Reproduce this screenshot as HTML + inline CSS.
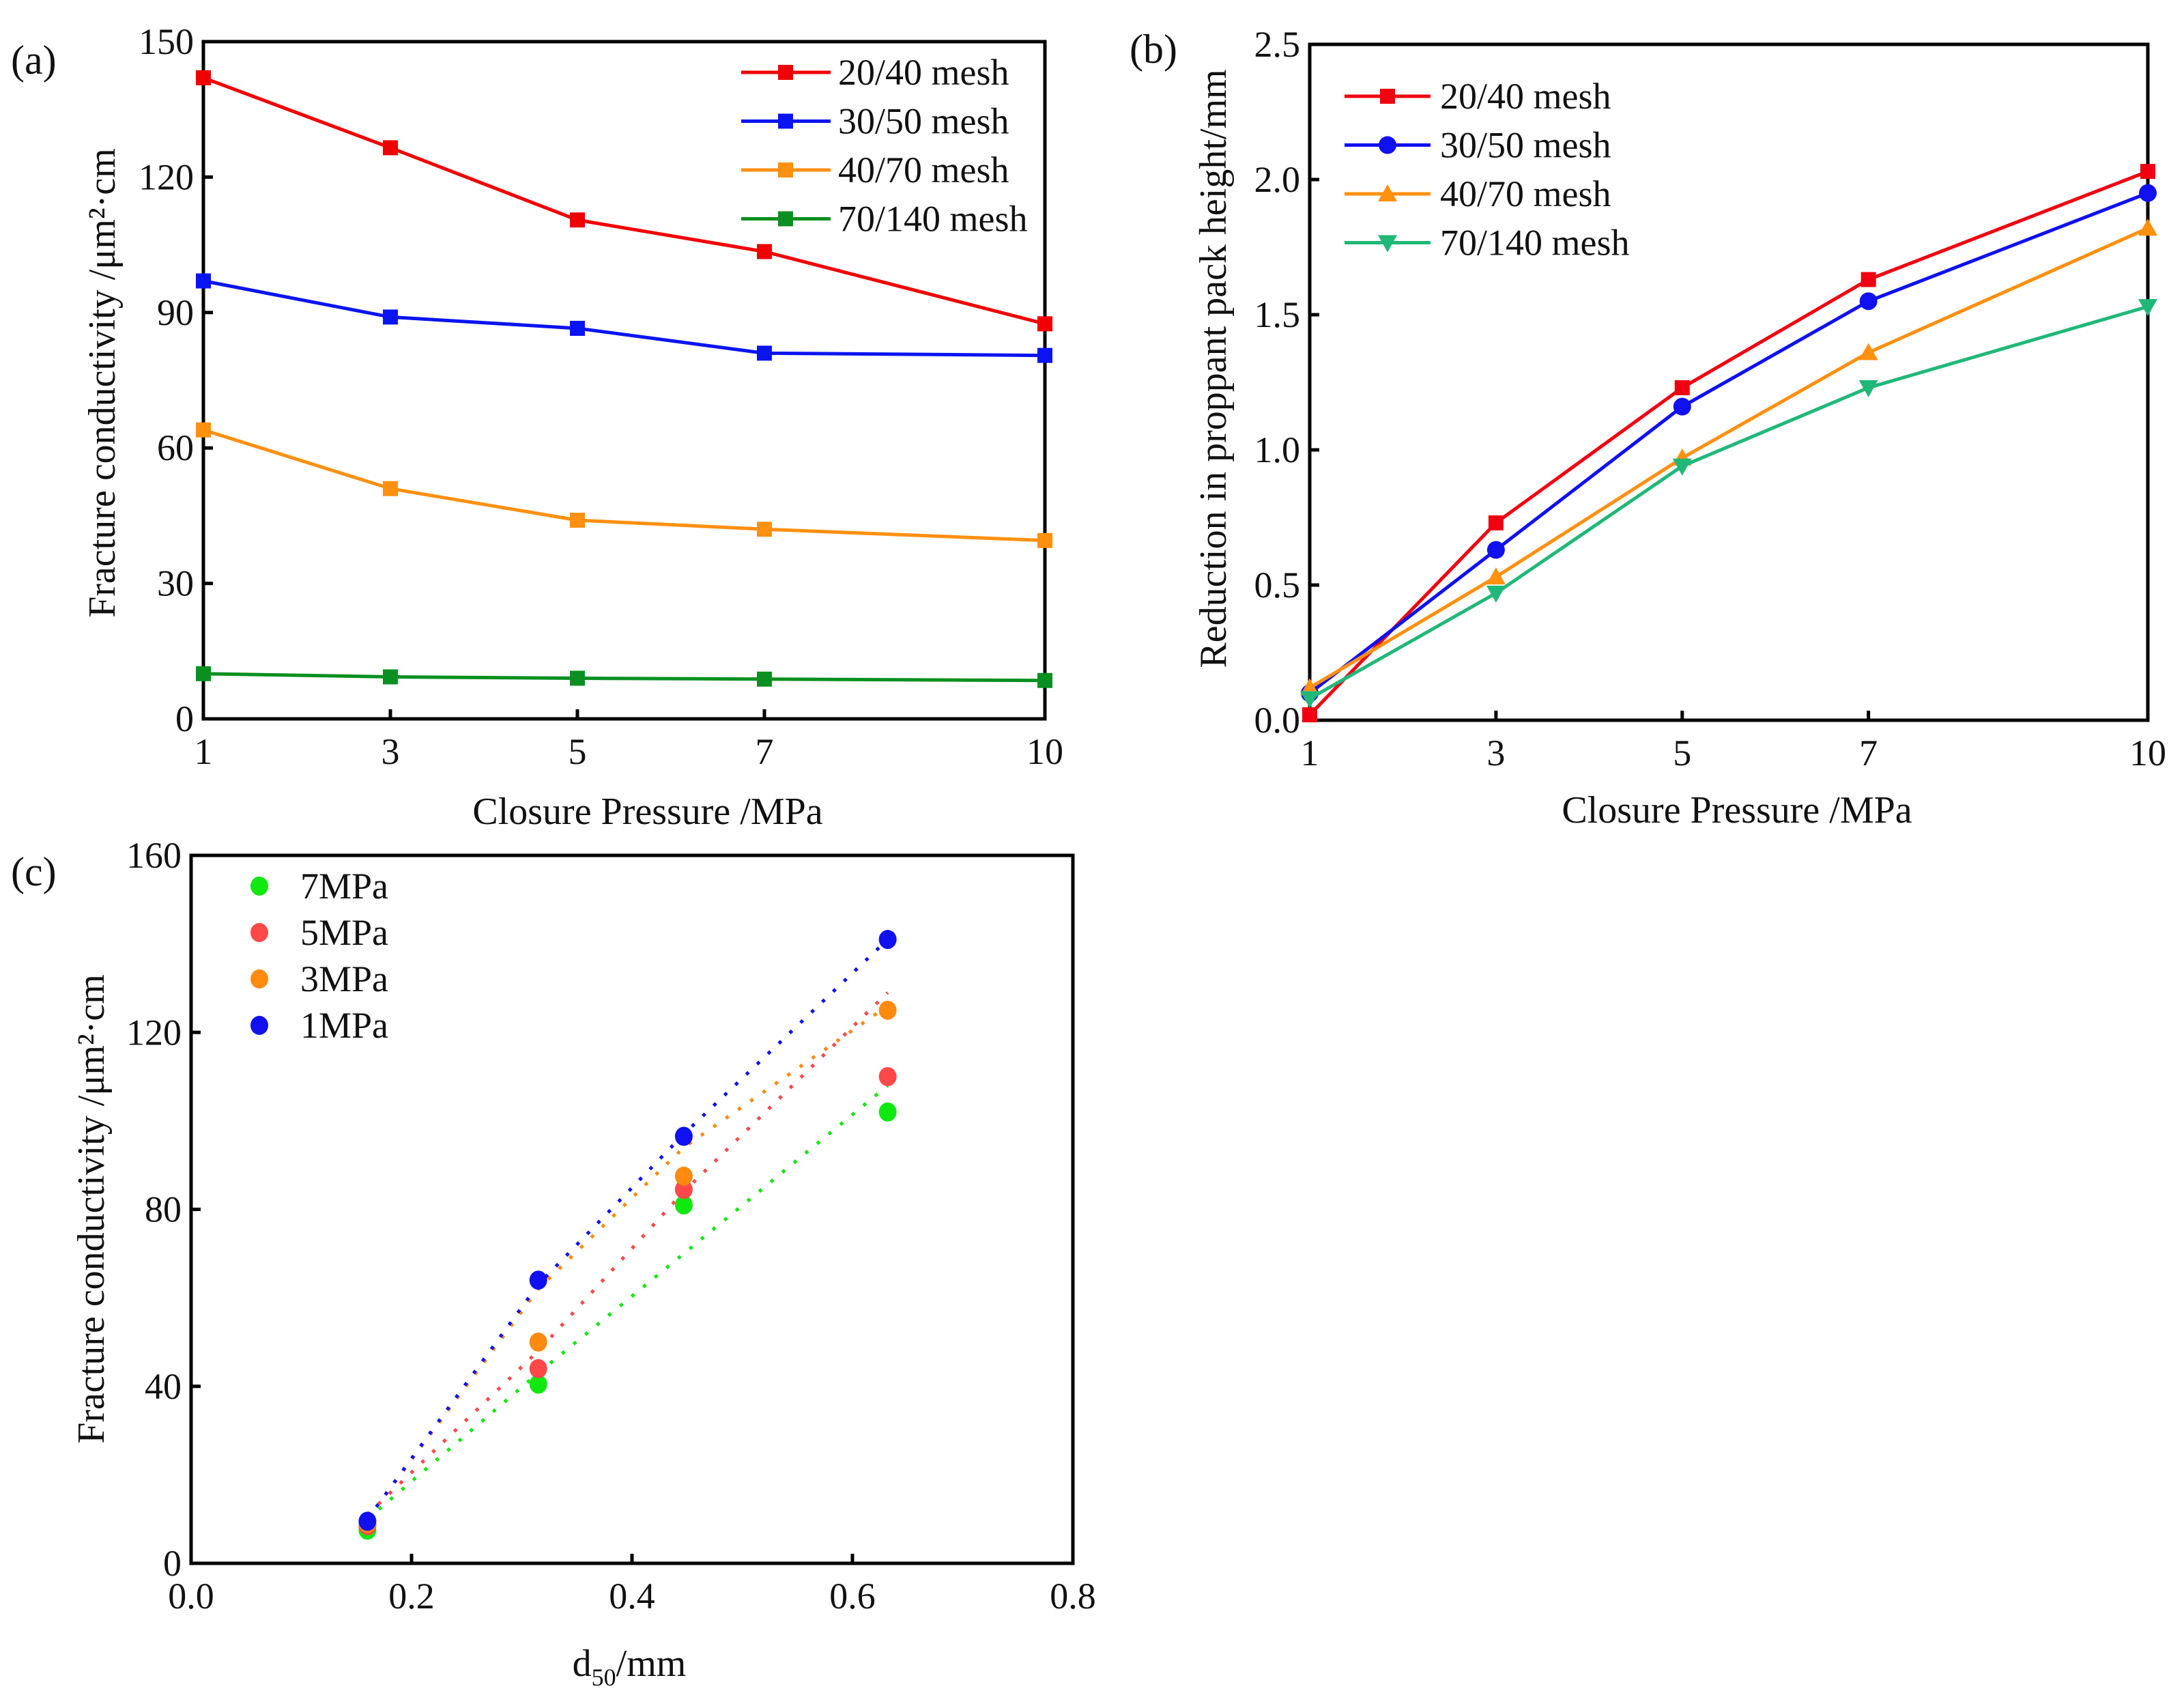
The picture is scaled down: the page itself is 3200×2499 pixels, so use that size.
<!DOCTYPE html>
<html><head><meta charset="utf-8"><style>
html,body{margin:0;padding:0;background:#fff}
svg{display:block}
text{font-family:"Liberation Serif",serif;fill:#111}
</style></head><body>
<svg id="fig" width="3200" height="2499" viewBox="0 0 3200 2499" xmlns="http://www.w3.org/2000/svg"></svg>
<script>
// ---- Panel (a) data ----
const aX = [1,3,5,7,10];
const aNames = ["20/40 mesh","30/50 mesh","40/70 mesh","70/140 mesh"];
const a2040 = [142,126.5,110.5,103.5,87.5];
const a3050 = [97,89,86.5,81,80.5];
const a4070 = [64,51,44,42,39.5];
const a70140 = [10,9.3,9,8.8,8.5];
const aYTicks = [0,30,60,90,120,150];
const aXTicks = [1,3,5,7,10];
// ---- Panel (b) data ----
const bX = [1,3,5,7,10];
const b2040 = [0.02,0.73,1.23,1.63,2.03];
const b3050 = [0.1,0.63,1.16,1.55,1.95];
const b4070 = [0.12,0.53,0.97,1.36,1.82];
const b70140 = [0.08,0.47,0.94,1.23,1.53];
const bYTicks = [0.0,0.5,1.0,1.5,2.0,2.5];
const bXTicks = [1,3,5,7,10];
// ---- Panel (c) data ----
const cX = [0.16,0.315,0.447,0.632];
const cNames = ["7MPa","5MPa","3MPa","1MPa"];
const c7 = [7.5,40.5,81,102];
const c5 = [8.5,44,84.5,110];
const c3 = [9,50,87.5,125];
const c1 = [9.5,64,96.5,141];
// fitted trend values at cX
const f7 = [10,43,70,108];
const f5 = [11,48,84,129];
const f3 = [10,62,94,126];
const f1 = [10,63,97,141];
const cYTicks = [0,40,80,120,160];
const cXTicks = [0.0,0.2,0.4,0.6,0.8];

const NS="http://www.w3.org/2000/svg";
const svg=document.getElementById('fig');
function mk(tag,attrs,parent){const e=document.createElementNS(NS,tag);for(const k in attrs)e.setAttribute(k,attrs[k]);(parent||svg).appendChild(e);return e;}
function txt(s,attrs,parent){const e=mk('text',attrs,parent);e.textContent=s;return e;}

function axes(g,L,R,T,B,xmin,xmax,ymin,ymax,xt,yt,xfmt,yfmt){
  const sx=v=>L+(v-xmin)/(xmax-xmin)*(R-L);
  const sy=v=>B-(v-ymin)/(ymax-ymin)*(B-T);
  xt.forEach(v=>{
    const t=mk('line',{x1:sx(v),x2:sx(v),y1:B,y2:B-14,stroke:'#000','stroke-width':5},g);
    
    
    const l=txt(xfmt(v),{x:sx(v),y:B+66,'text-anchor':'middle','font-size':54},g);
    
    
  });
  yt.forEach(v=>{
    const t=mk('line',{x1:L,x2:L+14,y1:sy(v),y2:sy(v),stroke:'#000','stroke-width':5},g);
    
    
    const l=txt(yfmt(v),{x:L-14,y:sy(v)+18,'text-anchor':'end','font-size':54},g);
    
    
  });
  const f=mk('rect',{x:L,y:T,width:R-L,height:B-T,fill:'none',stroke:'#000','stroke-width':5},g);
  
  
  return {sx,sy};
}
function marker(g,type,x,y,col,s){
  let m;
  if(type==='sq') m=mk('rect',{x:x-s,y:y-s,width:2*s,height:2*s,fill:col},g);
  else if(type==='ci') m=mk('circle',{cx:x,cy:y,r:s+2,fill:col},g);
  else if(type==='up') m=mk('polygon',{points:`${x},${y-s-3} ${x-s-3},${y+s} ${x+s+3},${y+s}`,fill:col},g);
  else m=mk('polygon',{points:`${x},${y+s+3} ${x-s-3},${y-s} ${x+s+3},${y-s}`,fill:col},g);
  
  
  return m;
}

// ===== Panel A =====
const gA=mk('g',{});


const A=axes(gA,298,1531,61,1053,1,10,0,150,aXTicks,aYTicks,v=>String(v),v=>String(v));
const aSeries=[a2040,a3050,a4070,a70140];
const aCols=['#f00000','#0a14f0','#ff9010','#0a9020'];
aSeries.forEach((ys,i)=>{
  const pts=ys.map((v,j)=>A.sx(aX[j])+','+A.sy(v)).join(' ');
  const pl=mk('polyline',{points:pts,fill:'none',stroke:aCols[i],'stroke-width':5},gA);
  
  
  ys.forEach((v,j)=>marker(gA,'sq',A.sx(aX[j]),A.sy(v),aCols[i],11));
  const ly=106+i*71.5;
  const ll=mk('line',{x1:1086,x2:1217,y1:ly,y2:ly,stroke:aCols[i],'stroke-width':5},gA);
  
  
  marker(gA,'sq',1151,ly,aCols[i],11);
  const lt=txt(aNames[i],{x:1228,y:ly+18,'font-size':54},gA);
  
  
});
let t;
t=txt('(a)',{x:16,y:108,'font-size':60},gA);

t=txt('Fracture conductivity /μm²·cm',{x:0,y:0,'font-size':56,'text-anchor':'middle',transform:'translate(168,561) rotate(-90)'},gA);

t=txt('Closure Pressure /MPa',{x:949,y:1207,'font-size':56,'text-anchor':'middle'},gA);


// ===== Panel B =====
const gB=mk('g',{});


const B=axes(gB,1919,3147,65,1055,1,10,0,2.5,bXTicks,bYTicks,v=>String(v),v=>v.toFixed(1));
const bSeries=[b2040,b3050,b4070,b70140];
const bCols=['#f00010','#1010f0','#ff9010','#20b878'];
const bMk=['sq','ci','up','dn'];
bSeries.forEach((ys,i)=>{
  const pts=ys.map((v,j)=>B.sx(bX[j])+','+B.sy(v)).join(' ');
  const pl=mk('polyline',{points:pts,fill:'none',stroke:bCols[i],'stroke-width':5},gB);
  
  
  ys.forEach((v,j)=>marker(gB,bMk[i],B.sx(bX[j]),B.sy(v),bCols[i],11));
  const ly=141+i*71.5;
  const ll=mk('line',{x1:1970,x2:2096,y1:ly,y2:ly,stroke:bCols[i],'stroke-width':5},gB);
  
  
  marker(gB,bMk[i],2033,ly,bCols[i],11);
  const lt=txt(aNames[i],{x:2110,y:ly+18,'font-size':54},gB);
  
  
});
t=txt('(b)',{x:1655,y:92,'font-size':60},gB);

t=txt('Reduction in proppant pack height/mm',{x:0,y:0,'font-size':56,'text-anchor':'middle',transform:'translate(1796,540) rotate(-90)'},gB);

t=txt('Closure Pressure /MPa',{x:2545,y:1205,'font-size':56,'text-anchor':'middle'},gB);


// ===== Panel C =====
const gC=mk('g',{});


const C=axes(gC,280,1572,1253,2290,0,0.8,0,160,cXTicks,cYTicks,v=>v.toFixed(1),v=>String(v));
const cSeries=[c7,c5,c3,c1];
const cFits=[f7,f5,f3,f1];
const cCols=['#10e810','#ff4848','#ff8a10','#1010f0'];
cFits.forEach((ys,i)=>{
  const pts=ys.map((v,j)=>C.sx(cX[j])+','+C.sy(v)).join(' ');
  const pl=mk('polyline',{points:pts,fill:'none',stroke:cCols[i],'stroke-width':5,'stroke-dasharray':'5 17'},gC);
  
  
});
cSeries.forEach((ys,i)=>{
  ys.forEach((v,j)=>{
    const m=mk('ellipse',{cx:C.sx(cX[j]),cy:C.sy(v),rx:13,ry:14,fill:cCols[i]},gC);
    
    
  });
  const ly=1298+i*68;
  const lm=mk('ellipse',{cx:380,cy:ly,rx:13,ry:14,fill:cCols[i]},gC);
  
  
  const lt=txt(cNames[i],{x:440,y:ly+18,'font-size':54},gC);
  
  
});
t=txt('(c)',{x:16,y:1297,'font-size':60},gC);

t=txt('Fracture conductivity /μm²·cm',{x:0,y:0,'font-size':56,'text-anchor':'middle',transform:'translate(152,1771) rotate(-90)'},gC);

t=mk('text',{x:922,y:2455,'font-size':56,'text-anchor':'middle'},gC);
t.innerHTML='d<tspan font-size="36" dy="14">50</tspan><tspan dy="-14">/mm</tspan>';

</script>
</body></html>
